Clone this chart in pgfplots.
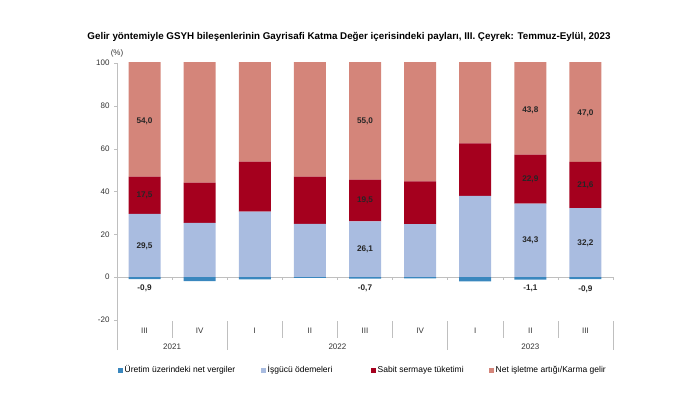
\documentclass[border=0pt]{standalone}
\usepackage{pgfplots}
\pgfplotsset{compat=1.18}
\usepackage{fontspec}
\setmainfont{Liberation Sans}
\definecolor{taxc}{HTML}{3A87BE}
\definecolor{labc}{HTML}{A9BCE0}
\definecolor{capc}{HTML}{A5001E}
\definecolor{netc}{HTML}{D4857A}
\definecolor{axc}{HTML}{BFBFBF}
\begin{document}
\begin{tikzpicture}[x=1pt,y=1pt]
\path (0,0) rectangle (700,402);
\pgfplotsset{base/.style={
  at={(117pt,52pt)}, anchor=south west,
  width=496pt, height=287pt, scale only axis,
  xmin=-0.5, xmax=8.5, ymin=-34, ymax=100,
  bar width=32pt,
  /pgf/number format/assume math mode=true,
  tick label style={font=\fontsize{8}{9}\selectfont, text=black!80},
}}
\tikzset{vl/.style={font=\bfseries\fontsize{8.2}{10}\selectfont, text=black!85}}
\begin{axis}[base,
  ybar stacked, clip=true,
  axis x line=none,
  axis y line*=left,
  y axis line style={axc, -},
  ytick={-20,0,20,40,60,80,100},
  ytick style={axc},
  tick align=outside,
  major tick length=3pt,
  yticklabel style={xshift=-1pt},
]
\addplot[fill=labc, draw=none] coordinates {(0,29.5) (1,25.4) (2,30.6) (3,24.9) (4,26.1) (5,24.8) (6,38.0) (7,34.3) (8,32.2)};
\addplot[fill=capc, draw=none] coordinates {(0,17.5) (1,18.7) (2,23.3) (3,22.0) (4,19.5) (5,19.9) (6,24.5) (7,22.9) (8,21.6)};
\addplot[fill=netc, draw=none] coordinates {(0,54.0) (1,57.7) (2,47.1) (3,53.6) (4,55.0) (5,55.9) (6,39.5) (7,43.8) (8,47.0)};
\end{axis}
\begin{axis}[base, ybar, bar shift=0pt, axis lines=none, clip=false]
% zero line and ticks
\draw[axc] (axis cs:-0.5,0) -- (axis cs:8.5,0);
\draw[axc] (axis cs:0.5,0) -- (axis cs:0.5,-1.4);
\draw[axc] (axis cs:1.5,0) -- (axis cs:1.5,-1.4);
\draw[axc] (axis cs:2.5,0) -- (axis cs:2.5,-1.4);
\draw[axc] (axis cs:3.5,0) -- (axis cs:3.5,-1.4);
\draw[axc] (axis cs:4.5,0) -- (axis cs:4.5,-1.4);
\draw[axc] (axis cs:5.5,0) -- (axis cs:5.5,-1.4);
\draw[axc] (axis cs:6.5,0) -- (axis cs:6.5,-1.4);
\draw[axc] (axis cs:7.5,0) -- (axis cs:7.5,-1.4);
\draw[axc] (axis cs:8.5,0) -- (axis cs:8.5,-1.4);
\addplot[fill=taxc, draw=none] coordinates {(0,-0.9) (1,-1.8) (2,-1.0) (3,-0.3) (4,-0.7) (5,-0.6) (6,-2.0) (7,-1.1) (8,-0.9)};
% category separators
\draw[axc] (axis cs:0.5,-20.5) -- (axis cs:0.5,-28.5);
\draw[axc] (axis cs:2.5,-20.5) -- (axis cs:2.5,-28.5);
\draw[axc] (axis cs:3.5,-20.5) -- (axis cs:3.5,-28.5);
\draw[axc] (axis cs:4.5,-20.5) -- (axis cs:4.5,-28.5);
\draw[axc] (axis cs:6.5,-20.5) -- (axis cs:6.5,-28.5);
\draw[axc] (axis cs:7.5,-20.5) -- (axis cs:7.5,-28.5);
\draw[axc] (axis cs:1.5,-20.5) -- (axis cs:1.5,-34);
\draw[axc] (axis cs:5.5,-20.5) -- (axis cs:5.5,-34);
\draw[axc] (axis cs:8.5,-20.5) -- (axis cs:8.5,-34);
% category labels
\node[font=\fontsize{8}{9}\selectfont, text=black!80] at (axis cs:0,-25) {III};
\node[font=\fontsize{8}{9}\selectfont, text=black!80] at (axis cs:1,-25) {IV};
\node[font=\fontsize{8}{9}\selectfont, text=black!80] at (axis cs:2,-25) {I};
\node[font=\fontsize{8}{9}\selectfont, text=black!80] at (axis cs:3,-25) {II};
\node[font=\fontsize{8}{9}\selectfont, text=black!80] at (axis cs:4,-25) {III};
\node[font=\fontsize{8}{9}\selectfont, text=black!80] at (axis cs:5,-25) {IV};
\node[font=\fontsize{8}{9}\selectfont, text=black!80] at (axis cs:6,-25) {I};
\node[font=\fontsize{8}{9}\selectfont, text=black!80] at (axis cs:7,-25) {II};
\node[font=\fontsize{8}{9}\selectfont, text=black!80] at (axis cs:8,-25) {III};
\node[font=\fontsize{8}{9}\selectfont, text=black!80] at (axis cs:0.5,-32.3) {2021};
\node[font=\fontsize{8}{9}\selectfont, text=black!80] at (axis cs:3.5,-32.3) {2022};
\node[font=\fontsize{8}{9}\selectfont, text=black!80] at (axis cs:7,-32.3) {2023};
% value labels
\node[vl] at (axis cs:0,73) {54,0};
\node[vl] at (axis cs:0,38.2) {17,5};
\node[vl] at (axis cs:0,14.5) {29,5};
\node[vl] at (axis cs:0,-5) {-0,9};
\node[vl] at (axis cs:4,73) {55,0};
\node[vl] at (axis cs:4,35.9) {19,5};
\node[vl] at (axis cs:4,13) {26,1};
\node[vl] at (axis cs:4,-5) {-0,7};
\node[vl] at (axis cs:7,78) {43,8};
\node[vl] at (axis cs:7,45.8) {22,9};
\node[vl] at (axis cs:7,17) {34,3};
\node[vl] at (axis cs:7,-5) {-1,1};
\node[vl] at (axis cs:8,76.5) {47,0};
\node[vl] at (axis cs:8,43) {21,6};
\node[vl] at (axis cs:8,16) {32,2};
\node[vl] at (axis cs:8,-5.5) {-0,9};
\node[font=\fontsize{8}{9}\selectfont, text=black!80, anchor=south] at (axis cs:-0.5,101.2) {(\%)};
\end{axis}
% title
\node[font=\bfseries\fontsize{9.8}{11}\selectfont, anchor=center] at (349,365) {Gelir yöntemiyle GSYH bileşenlerinin Gayrisafi Katma Değer içerisindeki payları, III. Çeyrek: Temmuz-Eylül, 2023};
% legend
\begin{scope}[font=\fontsize{8.5}{10}\selectfont]
\fill[taxc] (118,29.5) rectangle ++(5,5);
\node[anchor=west, inner sep=0pt] at (124.5,32) {Üretim üzerindeki net vergiler};
\fill[labc] (261,29.5) rectangle ++(5,5);
\node[anchor=west, inner sep=0pt] at (267.5,32) {İşgücü ödemeleri};
\fill[capc] (371,29.5) rectangle ++(5,5);
\node[anchor=west, inner sep=0pt] at (377.5,32) {Sabit sermaye tüketimi};
\fill[netc] (489,29.5) rectangle ++(5,5);
\node[anchor=west, inner sep=0pt] at (495.5,32) {Net işletme artığı/Karma gelir};
\end{scope}
\end{tikzpicture}
\end{document}
